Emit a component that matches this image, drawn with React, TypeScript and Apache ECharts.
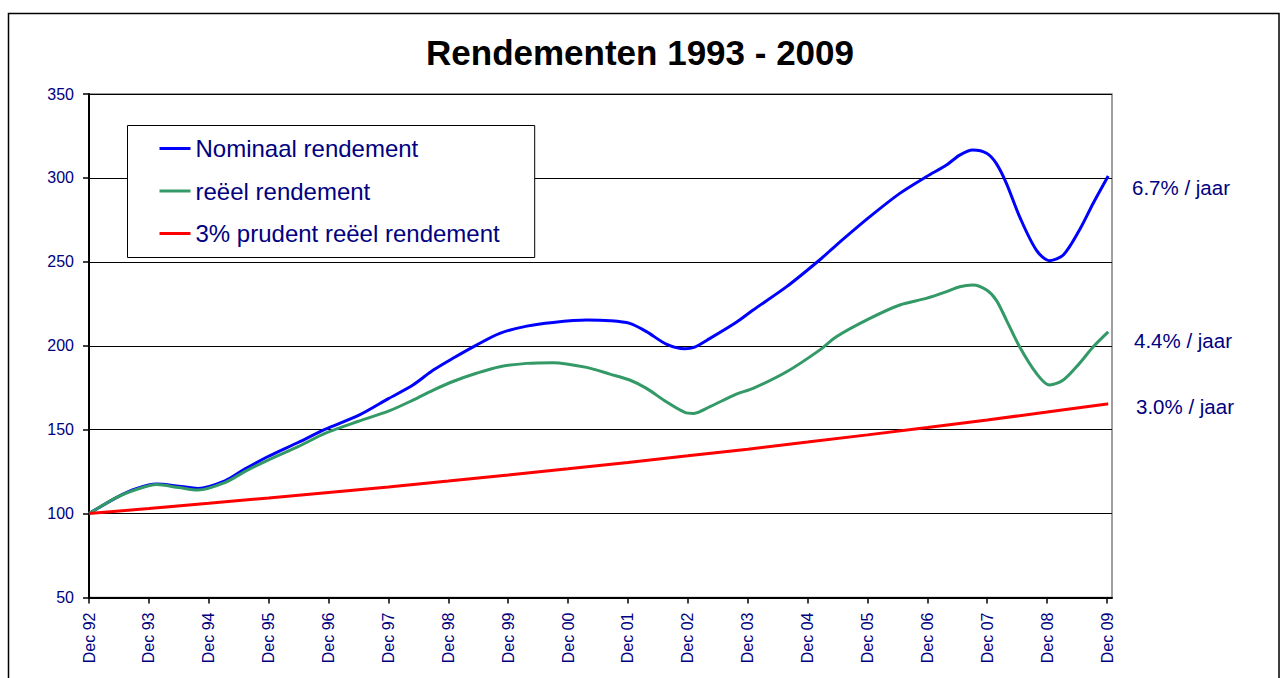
import React, { useEffect, useRef } from "react";
import * as echarts from "echarts";

const xLabels = [
  "Dec 92", "Dec 93", "Dec 94", "Dec 95", "Dec 96", "Dec 97", "Dec 98", "Dec 99", "Dec 00",
  "Dec 01", "Dec 02", "Dec 03", "Dec 04", "Dec 05", "Dec 06", "Dec 07", "Dec 08", "Dec 09",
];
const yearTicks = [0, 1, 2, 3, 4, 5, 6, 7, 8, 9, 10, 11, 12, 13, 14, 15, 16, 17];

// years since Dec 92
const times = [
  0, 0.48, 0.8, 1.13, 1.5, 1.82, 2.27, 2.6, 2.99, 3.5,
  3.94, 4.5, 5.0, 5.41, 5.75, 6.1, 6.47, 6.86, 7.31, 7.75,
  8.31, 8.7, 9.03, 9.31, 9.64, 9.95, 10.1, 10.37, 10.81, 11.09,
  11.65, 12.2, 12.48, 13.04, 13.54, 13.98, 14.32, 14.54, 14.76, 14.99,
  15.15, 15.32, 15.54, 15.82, 16.04, 16.27, 16.54, 16.77, 17.02,
];
const nominal = [
  100, 110, 115, 117.6, 116.3, 115, 119.5, 126.5, 134, 142.5,
  150.2, 158.5, 168.5, 176.6, 185.5, 193, 200.4, 207.4, 211.7, 213.9,
  215.3, 214.9, 213.3, 208.4, 201, 198.2, 199, 204.4, 214, 221.3,
  235.2, 251.1, 260, 276.9, 290.8, 300.7, 307.7, 313.6, 316.6, 314.7,
  308.7, 296.8, 276.9, 257, 250.7, 254.1, 269, 284.9, 301.1,
];
const real = [
  100, 110, 114.5, 117.3, 115.5, 114, 118.5, 125, 131.9, 140,
  147.8, 155, 161, 167.6, 173.6, 179, 183.6, 187.5, 189.5, 189.9,
  187.1, 183.1, 179.6, 174.6, 166.6, 160.3, 159.7, 163.7, 171.2, 174.6,
  184.5, 197.4, 205.4, 216.3, 224.3, 228.2, 232.2, 235.2, 236.2, 233.2,
  227.2, 215.3, 199.4, 183.6, 176.6, 179.6, 189.5, 199.4, 208.3,
];
const prudentT = [0, 1, 2, 3, 4, 5, 6, 7, 8, 9, 10, 11, 12, 13, 14, 15, 16, 17, 17.02];
const prudent = [
  100, 103, 106.1, 109.3, 112.6, 115.9, 119.4, 123, 126.7, 130.5,
  134.4, 138.4, 142.6, 146.9, 151.3, 155.8, 160.5, 165.3, 165.4,
];

const seriesNames = ["Nominaal rendement", "reëel rendement", "3% prudent reëel rendement"];
const rateLabels = ["6.7% / jaar", "4.4% / jaar", "3.0% / jaar"];

const FONT = "'Liberation Sans', Arial, sans-serif";
const NAVY = "#000080";

export default function App() {
  const ref = useRef<HTMLDivElement>(null);
  useEffect(() => {
    if (!ref.current) return;
    const chart = echarts.init(ref.current, null, { renderer: "svg" });
    const pair = (ts: number[], vs: number[]) => ts.map((t, i) => [t, vs[i]]);
    chart.setOption({
      animation: false,
      backgroundColor: "#fff",
      textStyle: { fontFamily: FONT },
      title: {
        text: "Rendementen 1993 - 2009",
        left: "center",
        top: 30,
        textStyle: { fontFamily: FONT, fontSize: 35, fontWeight: "bold", color: "#000" },
      },
      legend: {
        orient: "vertical",
        left: 127.5,
        top: 125.5,
        padding: [11, 35, 12, 32],
        itemGap: 18.5,
        itemWidth: 31,
        itemHeight: 3,
        icon: "rect",
        backgroundColor: "#fff",
        borderColor: "#000",
        borderWidth: 1,
        textStyle: { fontFamily: FONT, fontSize: 24, color: NAVY },
        data: seriesNames,
      },
      grid: {
        left: 89,
        top: 94,
        right: 168,
        bottom: 80.5,
        show: true,
        borderColor: "#808080",
        borderWidth: 1.5,
        backgroundColor: "transparent",
      },
      xAxis: {
        type: "value",
        min: 0,
        max: 17.0833,
        splitLine: { show: false },
        axisLine: { lineStyle: { color: "#000", width: 2 } },
        axisTick: { customValues: yearTicks, length: 6, lineStyle: { color: "#000", width: 1.5 } },
        axisLabel: {
          customValues: yearTicks,
          rotate: 90,
          margin: 15,
          fontSize: 16,
          color: NAVY,
          fontFamily: FONT,
          formatter: (v: number) => xLabels[Math.round(v)] ?? "",
        },
      },
      yAxis: {
        type: "value",
        min: 50,
        max: 350,
        interval: 50,
        splitLine: { show: true, lineStyle: { color: "#000", width: 1 } },
        axisLine: { show: true, lineStyle: { color: "#000", width: 2 } },
        axisTick: { show: true, length: 6, lineStyle: { color: "#000", width: 1.5 } },
        axisLabel: { margin: 15, fontSize: 16, color: NAVY, fontFamily: FONT },
      },
      series: [
        {
          name: seriesNames[0],
          type: "line",
          data: pair(times, nominal),
          smooth: 0.3,
          symbol: "none",
          lineStyle: { color: "#0000ff", width: 3 },
          itemStyle: { color: "#0000ff" },
        },
        {
          name: seriesNames[1],
          type: "line",
          data: pair(times, real),
          smooth: 0.3,
          symbol: "none",
          lineStyle: { color: "#339966", width: 3 },
          itemStyle: { color: "#339966" },
        },
        {
          name: seriesNames[2],
          type: "line",
          data: pair(prudentT, prudent),
          smooth: false,
          symbol: "none",
          lineStyle: { color: "#ff0000", width: 3 },
          itemStyle: { color: "#ff0000" },
        },
      ],
      graphic: [
        {
          type: "rect",
          silent: true,
          shape: { x: 8.5, y: 13.5, width: 1270.5, height: 700 },
          style: { fill: "none", stroke: "#000", lineWidth: 1.5 },
          z: 100,
        },
        {
          type: "text",
          x: 1132,
          y: 187,
          style: { text: rateLabels[0], fontSize: 20.5, fontFamily: FONT, fill: NAVY, verticalAlign: "middle" },
        },
        {
          type: "text",
          x: 1134,
          y: 340,
          style: { text: rateLabels[1], fontSize: 20.5, fontFamily: FONT, fill: NAVY, verticalAlign: "middle" },
        },
        {
          type: "text",
          x: 1136,
          y: 406,
          style: { text: rateLabels[2], fontSize: 20.5, fontFamily: FONT, fill: NAVY, verticalAlign: "middle" },
        },
      ],
    });
    return () => chart.dispose();
  }, []);
  return (
    <div
      ref={ref}
      style={{ position: "fixed", left: 0, top: 0, width: 1280, height: 678, background: "#fff" }}
    />
  );
}
